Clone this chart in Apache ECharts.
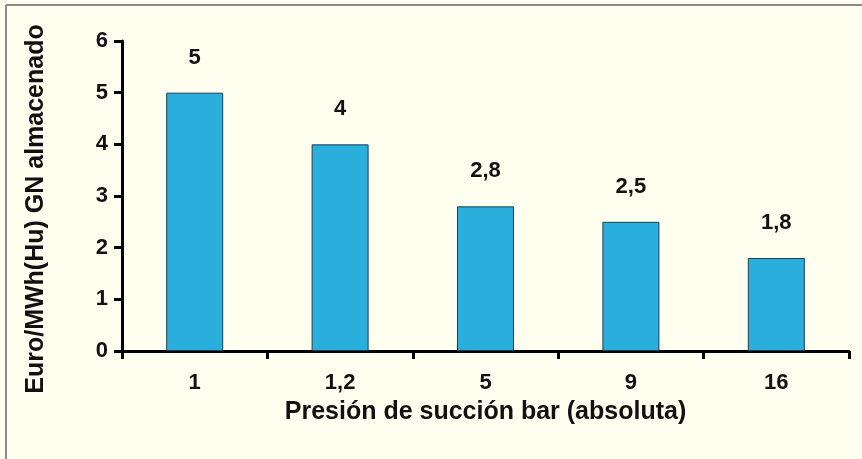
<!DOCTYPE html>
<html>
<head>
<meta charset="utf-8">
<script src="https://cdn.jsdelivr.net/npm/echarts@6/dist/echarts.min.js"></script>
<style>
html,body{margin:0;padding:0;background:#fffff0;}
#c{width:862px;height:459px;}
</style>
</head>
<body>
<div id="c"></div>
<script>
var categories = ['1', '1,2', '5', '9', '16'];
var values = [5, 4, 2.8, 2.5, 1.8];
var yTicks = [0, 1, 2, 3, 4, 5, 6];
var xName = 'Presión de succión bar (absoluta)';
var yName = 'Euro/MWh(Hu) GN almacenado';

var font = '"Liberation Sans", Arial, Helvetica, sans-serif';
var chart = echarts.init(document.getElementById('c'));
chart.setOption({
  backgroundColor: '#fffff0',
  animation: false,
  graphic: [
    {type: 'line', shape: {x1: 6, y1: 5, x2: 862, y2: 5}, style: {stroke: '#8a8a8a', lineWidth: 2}},
    {type: 'line', shape: {x1: 6, y1: 5, x2: 6, y2: 459}, style: {stroke: '#8a8a8a', lineWidth: 2}}
  ],
  grid: {left: 122, right: 13, top: 41, bottom: 108, containLabel: false},
  xAxis: {
    type: 'category',
    data: categories,
    name: xName,
    nameLocation: 'middle',
    nameGap: 49,
    nameTextStyle: {fontFamily: font, fontWeight: 'bold', fontSize: 25, color: '#111'},
    axisLine: {lineStyle: {color: '#000', width: 3}},
    axisTick: {show: true, length: 8, lineStyle: {color: '#000', width: 3}},
    axisLabel: {margin: 21, fontFamily: font, fontWeight: 'bold', fontSize: 22, color: '#111'}
  },
  yAxis: {
    type: 'value',
    min: yTicks[0],
    max: yTicks[yTicks.length - 1],
    interval: 1,
    name: yName,
    nameLocation: 'middle',
    nameGap: 73,
    nameTextStyle: {fontFamily: font, fontWeight: 'bold', fontSize: 25, color: '#111', padding: [0, 26, 0, 0]},
    axisLine: {show: true, lineStyle: {color: '#000', width: 3}},
    axisTick: {show: true, length: 8, lineStyle: {color: '#000', width: 3}},
    splitLine: {show: false},
    axisLabel: {margin: 14, fontFamily: font, fontWeight: 'bold', fontSize: 22, color: '#111'}
  },
  series: [{
    type: 'bar',
    data: values,
    barWidth: 57,
    itemStyle: {color: '#2aafdd', borderColor: '#1d3f50', borderWidth: 1},
    label: {
      show: true,
      position: 'top',
      distance: 24,
      fontFamily: font,
      fontWeight: 'bold',
      fontSize: 22,
      color: '#111',
      formatter: function (p) { return String(p.value).replace('.', ','); }
    }
  }]
});
</script>
</body>
</html>
